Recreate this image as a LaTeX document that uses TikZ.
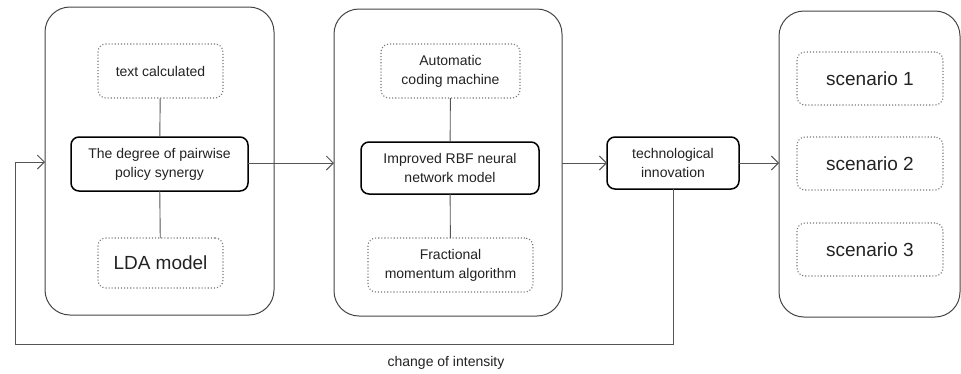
\documentclass[tikz,border=0pt]{standalone}
\usepackage{fontspec}
\setmainfont{Liberation Sans}
\usetikzlibrary{arrows.meta}
\definecolor{linec}{HTML}{555555}
\definecolor{contc}{HTML}{444444}
\definecolor{dotc}{HTML}{777777}
\definecolor{txtc}{HTML}{222222}
\tikzset{
  x=1pt, y=-1pt,
  every node/.style={inner sep=0pt, outer sep=0pt, align=center, text=txtc,
    font=\fontsize{14}{19}\selectfont},
  container/.style={draw=contc, line width=1pt, rounded corners=25pt},
  solidbox/.style={draw=black, line width=1.5pt, rounded corners=8pt, fill=white},
  dotbox/.style={draw=dotc, dotted, line width=1.1pt, rounded corners=8pt},
  bigtext/.style={font=\fontsize{19}{23}\selectfont},
  conn/.style={draw=linec, line width=0.9pt},
  arr/.style={conn, -{Straight Barb[length=7pt,width=14pt,line width=0.9pt]}},
}
\begin{document}
\begin{tikzpicture}
\useasboundingbox (0,0) rectangle (961,373);
% containers
\node[container, minimum width=229pt, minimum height=308pt] (c1) at (159.5,161) {};
\node[container, minimum width=228pt, minimum height=307pt] (c2) at (448,162.5) {};
\node[container, minimum width=181pt, minimum height=306pt] (c3) at (869.5,164) {};
% column 1
\node[dotbox, minimum width=125pt, minimum height=54pt] (tc) at (160.5,71) {text calculated};
\node[solidbox, minimum width=177pt, minimum height=54pt] (syn) at (159.5,164) {The degree of pairwise\\policy synergy};
\node[dotbox, bigtext, minimum width=125pt, minimum height=50pt] (lda) at (160.5,263) {LDA model};
% column 2
\node[dotbox, minimum width=139pt, minimum height=54pt] (auto) at (450.5,71) {Automatic\\coding machine};
\node[solidbox, minimum width=178pt, minimum height=52pt] (rbf) at (450,168) {Improved RBF neural\\network model};
\node[dotbox, minimum width=165pt, minimum height=54pt] (frac) at (450.5,265) {Fractional\\momentum algorithm};
% tech
\node[solidbox, minimum width=132pt, minimum height=52pt] (tech) at (673,163) {technological\\innovation};
% scenarios
\node[dotbox, bigtext, minimum width=146pt, minimum height=53pt] (s1) at (870,78.5) {scenario 1};
\node[dotbox, bigtext, minimum width=146pt, minimum height=53pt] (s2) at (870,163.5) {scenario 2};
\node[dotbox, bigtext, minimum width=146pt, minimum height=53pt] (s3) at (870,249.5) {scenario 3};
% inner links
\draw[conn] (tc) -- (syn);
\draw[conn] (syn) -- (lda);
\draw[conn] (auto) -- (rbf);
\draw[conn] (rbf) -- (frac);
% flow arrows
\coordinate (a1) at (248,163);
\draw[arr] (syn.east |- a1) -- (c2.west |- a1);
\draw[arr] (c2.east |- tech.west) -- (tech.west);
\draw[arr] (tech.east) -- (c3.west |- tech.east);
% feedback
\coordinate (fb1) at (673,344);
\coordinate (fb2) at (15,344);
\coordinate (fb3) at (15,162);
\draw[arr] (tech.south) -- (fb1) -- (fb2) -- (fb3) -- (c1.west |- fb3);
\node (lbl) at (446,363) {change of intensity};
\end{tikzpicture}
\end{document}
